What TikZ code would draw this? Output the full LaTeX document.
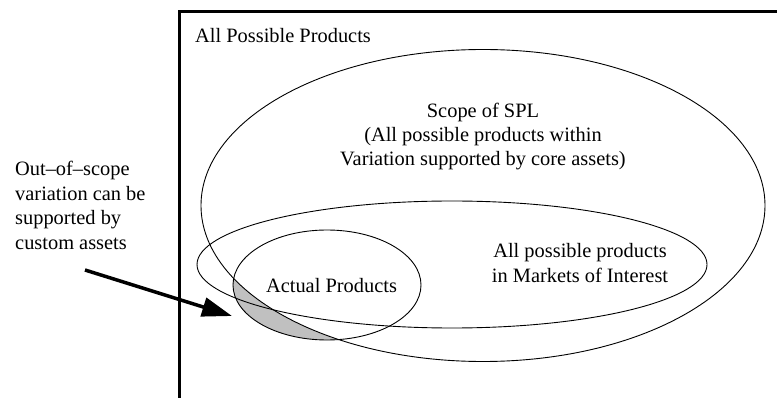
\documentclass[tikz,border=0pt]{standalone}
\usepackage{fontspec}
\setmainfont{Liberation Serif}
\usetikzlibrary{shapes.geometric,arrows.meta}
\definecolor{outscope}{HTML}{C0C0C0}
\tikzset{
  region/.style={ellipse, draw, line width=0.9pt, inner sep=0pt},
  label/.style={inner sep=0pt, font=\fontsize{20.4}{24.4}\selectfont},
  frame/.style={line width=3pt},
  pointer/.style={line width=3.5pt, -{Triangle[length=30pt,width=19pt]}}
}
\begin{document}
\begin{tikzpicture}[x=1pt,y=-1pt]
  \useasboundingbox (0,0) rectangle (777,398);
  \fill[white] (0,0) rectangle (777,398);

  % outer box of all possible products (open to the right and bottom)
  \coordinate (boxbottom) at (179,400);
  \coordinate (boxcorner) at (179,12);
  \coordinate (boxright) at (780,12);
  \draw[frame] (boxbottom) -- (boxcorner) -- (boxright);
  \node[label, anchor=base west] (allprod) at (195,43) {All Possible Products};

  % products outside the SPL scope: inside the actual products, outside the scope
  \begin{scope}
    \clip (327,285) ellipse [x radius=94, y radius=55];
    \fill[outscope, even odd rule] (0,0) rectangle (777,398)
      (483,205.5) ellipse [x radius=282, y radius=156];
  \end{scope}

  % the three product sets
  \node[region, minimum width=564pt, minimum height=312pt] (scope) at (483,205.5) {};
  \node[region, minimum width=510pt, minimum height=127pt] (markets) at (452,264.5) {};
  \node[region, minimum width=188pt, minimum height=110pt] (actual) at (327,285) {};

  % multi-line labels are placed by the baseline of their last line
  \node[label, anchor=base, align=center] (scopetext) at (483,166)
    {Scope of SPL\\(All possible products within\\Variation supported by core assets)};
  \node[label, anchor=base, align=center] (marketstext) at (580,282.4)
    {All possible products\\in Markets of Interest};
  \node[label, anchor=base] (actualtext) at (331.5,293) {Actual Products};

  % note on the left with its pointer
  \node[label, anchor=base west, align=left] (note) at (15,249.2)
    {Out--of--scope\\variation can be\\supported by\\custom assets};
  \coordinate (tail) at (85,270);
  \coordinate (tip) at (232,316);
  \draw[pointer] (tail) -- (tip);
\end{tikzpicture}
\end{document}
